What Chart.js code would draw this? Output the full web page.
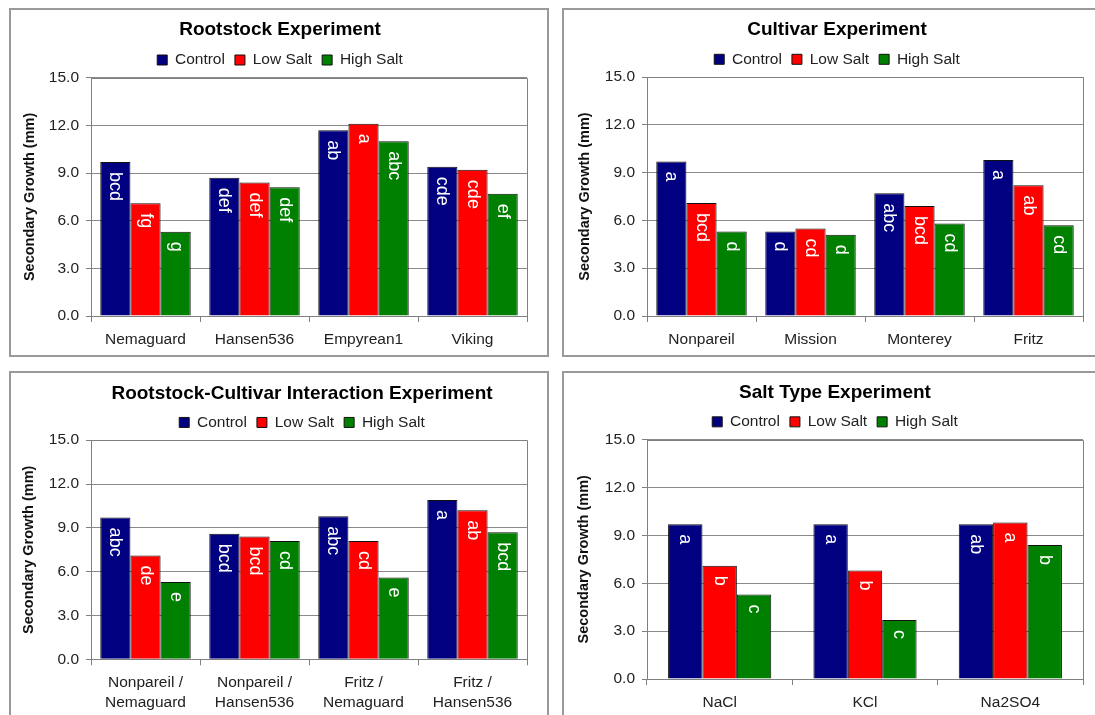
<!DOCTYPE html>
<html>
<head>
<meta charset="utf-8">
<title>Secondary Growth under Salt Treatments</title>
<script src="https://cdn.jsdelivr.net/npm/chart.js@4/dist/chart.umd.min.js"></script>
<style>
  html, body { margin: 0; padding: 0; background: #fff; width: 1095px; height: 715px; overflow: hidden; }
  .panel { position: absolute; box-sizing: border-box; border: 2px solid #9a9a9a; background: #fff; }
  .panel canvas { position: absolute; left: 0; top: 0; }
</style>
</head>
<body>
<div class="panel" style="left:9px;top:8px;width:540px;height:349px"><canvas id="rootstockChart" height="345"></canvas></div>
<div class="panel" style="left:562px;top:8px;width:540px;height:349px"><canvas id="cultivarChart" height="345"></canvas></div>
<div class="panel" style="left:9px;top:371px;width:540px;height:360px"><canvas id="interactionChart" height="342"></canvas></div>
<div class="panel" style="left:562px;top:371px;width:540px;height:360px"><canvas id="saltTypeChart" height="342"></canvas></div>

<script>
// ---- Shared series names and axis ----
const seriesNames = ['Control', 'Low Salt', 'High Salt'];
const yAxisTitle = 'Secondary Growth (mm)';
const yMin = 0, yMax = 15, yStep = 3;

// ---- Rootstock experiment ----
const rootstockCategories = ['Nemaguard', 'Hansen536', 'Empyrean1', 'Viking'];
const rootstockControl  = [9.7, 8.7, 11.7, 9.4];
const rootstockLowSalt  = [7.1, 8.4, 12.1, 9.2];
const rootstockHighSalt = [5.3, 8.1, 11.0, 7.7];
const rootstockControlLetters  = ['bcd', 'def', 'ab', 'cde'];
const rootstockLowSaltLetters  = ['fg', 'def', 'a', 'cde'];
const rootstockHighSaltLetters = ['g', 'def', 'abc', 'ef'];

// ---- Cultivar experiment ----
const cultivarCategories = ['Nonpareil', 'Mission', 'Monterey', 'Fritz'];
const cultivarControl  = [9.7, 5.3, 7.7, 9.8];
const cultivarLowSalt  = [7.1, 5.5, 6.9, 8.2];
const cultivarHighSalt = [5.3, 5.1, 5.8, 5.7];
const cultivarControlLetters  = ['a', 'd', 'abc', 'a'];
const cultivarLowSaltLetters  = ['bcd', 'cd', 'bcd', 'ab'];
const cultivarHighSaltLetters = ['d', 'd', 'cd', 'cd'];

// ---- Rootstock-cultivar interaction experiment ----
const interactionCategories = [
  ['Nonpareil /', 'Nemaguard'],
  ['Nonpareil /', 'Hansen536'],
  ['Fritz /', 'Nemaguard'],
  ['Fritz /', 'Hansen536']
];
const interactionControl  = [9.7, 8.6, 9.8, 10.9];
const interactionLowSalt  = [7.1, 8.4, 8.1, 10.2];
const interactionHighSalt = [5.3, 8.1, 5.6, 8.7];
const interactionControlLetters  = ['abc', 'bcd', 'abc', 'a'];
const interactionLowSaltLetters  = ['de', 'bcd', 'cd', 'ab'];
const interactionHighSaltLetters = ['e', 'cd', 'e', 'bcd'];

// ---- Salt type experiment ----
const saltTypeCategories = ['NaCl', 'KCl', 'Na2SO4'];
const saltTypeControl  = [9.7, 9.7, 9.7];
const saltTypeLowSalt  = [7.1, 6.8, 9.8];
const saltTypeHighSalt = [5.3, 3.7, 8.4];
const saltTypeControlLetters  = ['a', 'a', 'ab'];
const saltTypeLowSaltLetters  = ['b', 'b', 'a'];
const saltTypeHighSaltLetters = ['c', 'c', 'b'];

// ---- Styling ----
const seriesColors = ['#000080', '#ff0000', '#008000'];
const GRID = '#8a8a8a';
const AXIS = '#808080';
const TEXT = '#222';
const FONT = '"Liberation Sans", Arial, Helvetica, sans-serif';
Chart.defaults.font.family = FONT;

// Significance letters, written vertically just inside the top of each bar
const letterPlugin = {
  id: 'barLetters',
  afterDatasetsDraw(chart) {
    const ctx = chart.ctx;
    chart.data.datasets.forEach((ds, di) => {
      const meta = chart.getDatasetMeta(di);
      meta.data.forEach((bar, i) => {
        const txt = ds.letters && ds.letters[i];
        if (!txt) return;
        ctx.save();
        ctx.translate(bar.x, bar.y + 10);
        ctx.rotate(Math.PI / 2);
        ctx.font = '18px ' + FONT;
        ctx.fillStyle = '#ffffff';
        ctx.textAlign = 'left';
        ctx.textBaseline = 'middle';
        ctx.fillText(txt, 0, 0);
        ctx.restore();
      });
    });
  }
};

// Thin frame around the plot area (top and right edges)
const framePlugin = {
  id: 'plotFrame',
  beforeDatasetsDraw(chart) {
    const a = chart.chartArea;
    const ctx = chart.ctx;
    ctx.save();
    ctx.strokeStyle = AXIS;
    ctx.lineWidth = 1;
    ctx.beginPath();
    ctx.moveTo(Math.round(a.left) + 0.5, Math.round(a.top) + 0.5);
    ctx.lineTo(Math.round(a.right) + 0.5, Math.round(a.top) + 0.5);
    ctx.lineTo(Math.round(a.right) + 0.5, Math.round(a.bottom) + 0.5);
    ctx.stroke();
    ctx.restore();
  }
};

// g.cx is the horizontal centre for title and legend; the canvas is sized
// so that its own centre sits there, and an empty right-hand axis keeps the
// plot's right edge in place.
function makeChart(id, g) {
  const canvas = document.getElementById(id);
  canvas.width = 2 * g.cx;
  const W = canvas.width, H = canvas.height;
  const rightMargin = W - g.right;
  const titleLine = 19 * 1.2;
  const padTop = g.titleY - titleLine / 2;
  const padBottom = Math.max(0, g.legendY - 7.75 - 10 - padTop - titleLine);
  const values = [g.control, g.low, g.high];
  const letters = [g.lettersC, g.lettersL, g.lettersH];

  return new Chart(canvas, {
    type: 'bar',
    data: {
      labels: g.labels,
      datasets: seriesNames.map((name, k) => ({
        label: name,
        data: values[k],
        letters: letters[k],
        backgroundColor: seriesColors[k],
        borderColor: '#111',
        borderWidth: 1
      }))
    },
    options: {
      responsive: false,
      animation: false,
      devicePixelRatio: 1,
      layout: { padding: 0 },
      datasets: { bar: { barPercentage: 1.0, categoryPercentage: g.catPct } },
      plugins: {
        title: {
          display: true,
          text: g.title,
          color: '#000',
          font: { size: 19, weight: 'bold', lineHeight: 1.2 },
          padding: { top: padTop, bottom: padBottom }
        },
        legend: {
          display: true,
          labels: { boxWidth: 10, boxHeight: 10, padding: 10, color: TEXT, font: { size: 15.5 } }
        },
        tooltip: { enabled: false }
      },
      scales: {
        x: {
          grid: { display: true, drawOnChartArea: false, drawTicks: true, tickLength: 6, color: AXIS, offset: true },
          border: { display: true, color: AXIS, width: 1 },
          ticks: { color: TEXT, font: { size: 15.5, lineHeight: 1.25 }, padding: 8, maxRotation: 0, autoSkip: false },
          afterFit: s => { s.height = H - g.bottom; }
        },
        y: {
          min: yMin,
          max: yMax,
          ticks: { stepSize: yStep, callback: v => v.toFixed(1), color: TEXT, font: { size: 15.5 }, padding: 7 },
          grid: { color: GRID, lineWidth: 1, tickLength: 5, tickColor: AXIS },
          border: { display: true, color: AXIS, width: 1 },
          title: {
            display: true,
            text: yAxisTitle,
            color: '#111',
            font: { size: 14.5, weight: 'bold', lineHeight: 1.2 },
            padding: { top: g.ytX - 8.7, bottom: 0 }
          },
          afterFit: s => { s.width = g.left; }
        },
        yRight: {
          type: 'linear',
          position: 'right',
          min: yMin,
          max: yMax,
          grid: { display: false, drawTicks: false },
          border: { display: false },
          ticks: { display: false },
          afterFit: s => { s.width = rightMargin; }
        }
      }
    },
    plugins: [framePlugin, letterPlugin]
  });
}

makeChart('rootstockChart', {
  title: 'Rootstock Experiment',
  labels: rootstockCategories,
  control: rootstockControl, low: rootstockLowSalt, high: rootstockHighSalt,
  lettersC: rootstockControlLetters, lettersL: rootstockLowSaltLetters, lettersH: rootstockHighSaltLetters,
  left: 80, right: 516, bottom: 306, cx: 269, titleY: 20, legendY: 50, ytX: 19, catPct: 0.83
});

makeChart('cultivarChart', {
  title: 'Cultivar Experiment',
  labels: cultivarCategories,
  control: cultivarControl, low: cultivarLowSalt, high: cultivarHighSalt,
  lettersC: cultivarControlLetters, lettersL: cultivarLowSaltLetters, lettersH: cultivarHighSaltLetters,
  left: 83, right: 519, bottom: 306, cx: 273, titleY: 20, legendY: 49.3, ytX: 21, catPct: 0.83
});

makeChart('interactionChart', {
  title: 'Rootstock-Cultivar Interaction Experiment',
  labels: interactionCategories,
  control: interactionControl, low: interactionLowSalt, high: interactionHighSalt,
  lettersC: interactionControlLetters, lettersL: interactionLowSaltLetters, lettersH: interactionHighSaltLetters,
  left: 80, right: 516, bottom: 286.3, cx: 291, titleY: 20.3, legendY: 47, ytX: 18, catPct: 0.83
});

makeChart('saltTypeChart', {
  title: 'Salt Type Experiment',
  labels: saltTypeCategories,
  control: saltTypeControl, low: saltTypeLowSalt, high: saltTypeHighSalt,
  lettersC: saltTypeControlLetters, lettersL: saltTypeLowSaltLetters, lettersH: saltTypeHighSaltLetters,
  left: 83, right: 519, bottom: 306, cx: 271, titleY: 19.7, legendY: 46.3, ytX: 20, catPct: 0.71
});
</script>
</body>
</html>
